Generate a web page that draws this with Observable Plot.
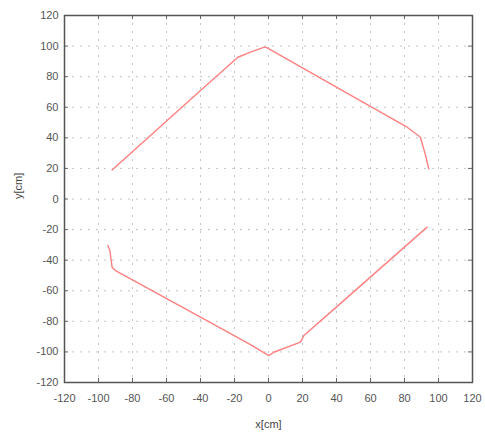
<!DOCTYPE html>
<html>
<head>
<meta charset="utf-8">
<script src="https://cdn.jsdelivr.net/npm/d3@7"></script>
<script src="https://cdn.jsdelivr.net/npm/@observablehq/plot@0.6"></script>
<style>
body { margin: 0; background: #fff; }
#chart { position: absolute; left: 0; top: 0; }
</style>
</head>
<body>
<div id="chart"></div>
<script>
const ticks = [-120, -100, -80, -60, -40, -20, 0, 20, 40, 60, 80, 100, 120];
const upperX = [-92, -40, -18, -10.6, -2.4, -1, 39.4, 81, 89.4, 91, 92.4, 94.3];
const upperY = [19, 71, 92.7, 96, 99.3, 99, 73.5, 47.4, 40.4, 33.9, 28.5, 19.7];
const lowerX = [-94.5, -93.3, -92, -90, -40, -10.6, 0.2, 3.1, 18.8, 20.8, 39.4, 79.6, 93.3];
const lowerY = [-30.4, -33.7, -44.6, -46.8, -77.2, -95.2, -102.4, -100.2, -93.6, -89.3, -71.2, -31.8, -18.4];

const upper = upperX.map((x, i) => ({x, y: upperY[i]}));
const lower = lowerX.map((x, i) => ({x, y: lowerY[i]}));
const fmt = d => String(d);
const gridStyle = {stroke: "#c4c4c4", strokeOpacity: 1, strokeDasharray: "2,6", strokeWidth: 1};

const plot = Plot.plot({
  width: 485,
  height: 439,
  marginLeft: 64,
  marginRight: 13,
  marginTop: 15,
  marginBottom: 57,
  style: {fontFamily: "Liberation Sans, Arial, sans-serif", fontSize: "11px", color: "#444"},
  x: {domain: [-120, 120]},
  y: {domain: [-120, 120]},
  marks: [
    Plot.gridX(ticks, gridStyle),
    Plot.gridY(ticks, gridStyle),
    Plot.axisX(ticks, {anchor: "bottom", tickSize: 0, tickPadding: 12, tickFormat: fmt, label: null, fill: "#555"}),
    Plot.axisY(ticks, {anchor: "left", tickSize: 0, tickPadding: 6, tickFormat: fmt, label: null, fill: "#555"}),
    Plot.tickX(ticks, {x: d => d, insetTop: 363, stroke: "#666"}),
    Plot.tickX(ticks, {x: d => d, insetBottom: 363, stroke: "#666"}),
    Plot.tickY(ticks, {y: d => d, insetRight: 404, stroke: "#666"}),
    Plot.tickY(ticks, {y: d => d, insetLeft: 404, stroke: "#666"}),
    Plot.line(upper, {x: "x", y: "y", stroke: "#ff8080", strokeWidth: 1.4}),
    Plot.line(lower, {x: "x", y: "y", stroke: "#ff8080", strokeWidth: 1.4}),
    Plot.frame({stroke: "#555", strokeWidth: 1.5}),
    Plot.text(["x[cm]"], {frameAnchor: "bottom", dy: 45, fill: "#444", fontSize: 11}),
    Plot.text(["y[cm]"], {frameAnchor: "left", dx: -46, rotate: -90, fill: "#444", fontSize: 11})
  ]
});
document.getElementById("chart").appendChild(plot);
</script>
</body>
</html>
